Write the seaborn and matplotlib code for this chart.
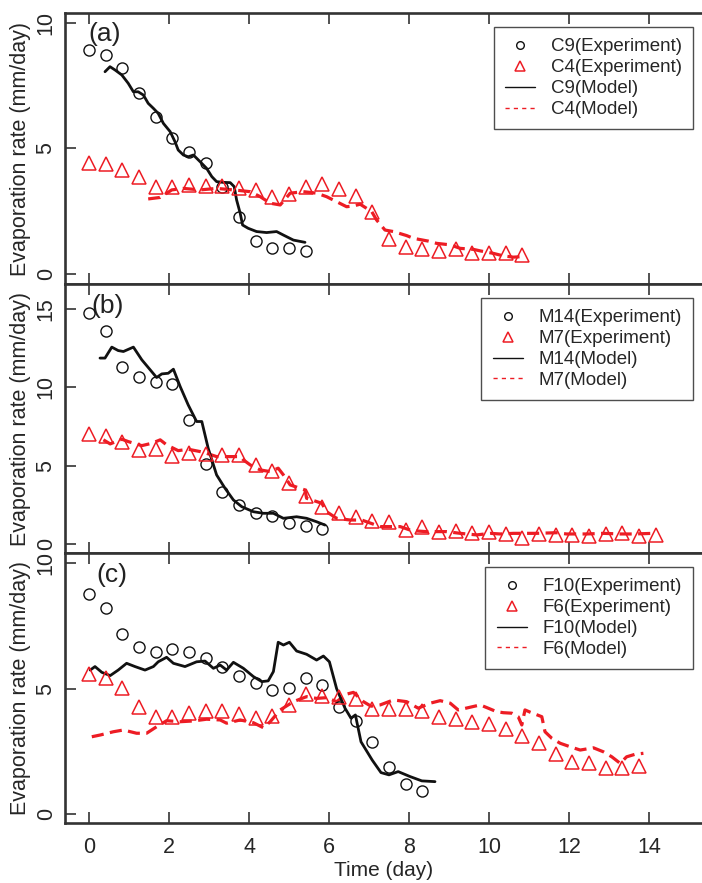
import numpy as np
import pandas as pd
import matplotlib
matplotlib.use("Agg")
import matplotlib.pyplot as plt
from matplotlib.lines import Line2D
import seaborn as sns

sns.set_theme(style="ticks")
plt.rcParams['font.family'] = ['Liberation Sans', 'DejaVu Sans']

# ---------------- data ----------------
t_exp = [0.0, 0.42, 0.83, 1.25, 1.67, 2.08, 2.5, 2.92, 3.33, 3.75, 4.17, 4.58,
         5.0, 5.42, 5.83, 6.25, 6.67, 7.08, 7.5, 7.92, 8.33, 8.75, 9.17, 9.58,
         10.0, 10.42, 10.83, 11.25, 11.67, 12.08, 12.5, 12.92, 13.33, 13.75, 14.17]

# panel (a)
c9_exp = [8.92, 8.72, 8.19, 7.2, 6.27, 5.43, 4.87, 4.43, 3.48, 2.28, 1.31, 1.05, 1.02, 0.93]
c4_exp = [4.43, 4.37, 4.14, 3.85, 3.48, 3.48, 3.55, 3.52, 3.52, 3.41, 3.35, 3.06, 3.18,
          3.48, 3.59, 3.39, 3.12, 2.46, 1.38, 1.06, 0.98, 0.93, 1.01, 0.82, 0.82, 0.85, 0.76]
c9_mod_t = [0.4, 0.525, 0.65, 0.82, 0.98, 1.11, 1.23, 1.36, 1.48, 1.61, 1.73, 1.86, 2.03,
            2.15, 2.23, 2.36, 2.48, 2.61, 2.78, 2.94, 3.07, 3.19, 3.36, 3.53, 3.63, 3.69,
            3.78, 3.84, 3.98, 4.19, 4.44, 4.69, 4.86, 5.11, 5.4]
c9_mod = [8.06, 8.26, 8.13, 7.93, 7.6, 7.26, 7.26, 7.13, 6.8, 6.6, 6.4, 6.0, 5.67,
          5.27, 4.94, 4.74, 4.67, 4.74, 4.47, 4.21, 3.88, 3.68, 3.65, 3.64, 3.48, 2.95,
          2.42, 1.95, 1.82, 1.69, 1.65, 1.69, 1.55, 1.35, 1.26]
c4_mod_t = [1.48, 1.78, 2.07, 2.36, 2.78, 3.19, 3.61, 4.03, 4.28, 4.53, 4.78, 5.03, 5.36,
            5.69, 5.94, 6.19, 6.44, 6.61, 6.78, 7.07, 7.19, 7.4, 7.61, 7.94, 8.11, 8.48,
            8.69, 9.03, 9.28, 9.61, 9.78, 10.11, 10.36, 10.61, 10.82]
c4_mod = [2.99, 3.05, 3.35, 3.41, 3.35, 3.41, 3.35, 3.28, 3.08, 2.82, 2.75, 3.22, 3.28,
          3.22, 3.08, 2.88, 2.68, 2.71, 2.78, 2.48, 2.15, 1.75, 1.69, 1.53, 1.42, 1.31,
          1.22, 1.16, 1.02, 0.98, 0.92, 0.82, 0.72, 0.67, 0.69]

# panel (b)
m14_exp = [14.74, 13.57, 11.29, 10.69, 10.37, 10.22, 7.92, 5.11, 3.34, 2.49, 2.0, 1.79,
           1.32, 1.17, 0.96]
m7_exp = [7.01, 6.9, 6.5, 6.01, 6.07, 5.62, 5.84, 5.73, 5.69, 5.69, 5.05, 4.66, 3.88,
          3.09, 2.38, 1.96, 1.74, 1.49, 1.39, 0.89, 1.07, 0.79, 0.85, 0.68, 0.79, 0.64,
          0.36, 0.64, 0.58, 0.58, 0.51, 0.62, 0.68, 0.51, 0.55]
m14_mod_t = [0.275, 0.4, 0.57, 0.73, 0.86, 1.11, 1.32, 1.53, 1.69, 1.82, 1.98, 2.11, 2.28,
             2.48, 2.69, 2.82, 2.98, 3.19, 3.4, 3.61, 3.82, 4.11, 4.36, 4.61, 4.86, 5.19,
             5.44, 5.69, 5.9]
m14_mod = [11.87, 11.87, 12.57, 12.35, 12.29, 12.57, 11.76, 11.12, 10.63, 10.86, 10.9,
           11.16, 10.05, 8.88, 7.82, 7.82, 6.11, 4.41, 3.56, 2.81, 2.38, 2.06, 1.96, 1.96,
           1.64, 1.74, 1.64, 1.42, 1.21]
m7_mod_t = [0.36, 0.53, 0.82, 0.98, 1.32, 1.57, 1.78, 1.94, 2.23, 2.48, 2.78, 2.94, 3.19,
            3.53, 3.78, 3.86, 4.03, 4.28, 4.53, 4.73, 4.86, 5.03, 5.4, 5.44, 5.82, 5.94,
            6.19, 6.53, 6.82, 7.28, 7.78, 8.07, 8.44, 8.94, 9.28, 9.69, 10.03, 10.28, 10.61,
            11.19, 11.69, 11.94, 12.44, 12.86, 13.28, 13.61, 14.11]
m7_mod = [6.65, 6.39, 6.69, 6.54, 6.28, 6.43, 6.65, 6.33, 5.96, 6.05, 5.9, 5.79, 5.58,
          5.58, 5.58, 5.37, 5.05, 4.73, 4.62, 4.84, 4.41, 3.77, 3.45, 2.92, 2.6, 2.06,
          1.64, 1.53, 1.53, 1.11, 1.11, 0.85, 0.79, 0.79, 0.68, 0.58, 0.68, 0.64, 0.68,
          0.68, 0.72, 0.64, 0.64, 0.68, 0.64, 0.64, 0.68]

# panel (c)
f10_exp = [8.78, 8.2, 7.18, 6.65, 6.47, 6.57, 6.47, 6.23, 5.88, 5.52, 5.24, 4.95, 5.01,
           5.44, 5.15, 4.28, 3.72, 2.86, 1.87, 1.18, 0.92]
f6_exp = [5.57, 5.44, 5.01, 4.28, 3.86, 3.88, 4.02, 4.11, 4.11, 3.98, 3.84, 3.91, 4.35,
          4.77, 4.72, 4.66, 4.6, 4.19, 4.19, 4.19, 4.12, 3.86, 3.78, 3.68, 3.58, 3.39,
          3.11, 2.82, 2.39, 2.09, 2.02, 1.85, 1.85, 1.93]
f10_mod_t = [0.03, 0.15, 0.32, 0.53, 0.73, 0.94, 1.15, 1.4, 1.61, 1.73, 1.94, 2.11, 2.4,
             2.69, 2.9, 3.11, 3.28, 3.44, 3.61, 3.86, 4.11, 4.32, 4.48, 4.61, 4.73, 4.86,
             5.01, 5.19, 5.44, 5.69, 5.86, 6.01, 6.19, 6.4, 6.55, 6.66, 6.8, 7.08, 7.3,
             7.5, 7.73, 8.03, 8.32, 8.65]
f10_mod = [5.74, 5.88, 5.65, 5.52, 5.74, 6.01, 5.88, 5.74, 5.88, 6.07, 6.25, 6.01, 5.88,
           6.07, 6.1, 5.81, 5.94, 5.74, 6.05, 5.81, 5.48, 5.28, 5.31, 5.68, 6.85, 6.74,
           6.85, 6.5, 6.37, 6.14, 6.3, 6.07, 5.0, 4.22, 3.82, 3.95, 2.88, 2.15, 1.65,
           1.56, 1.69, 1.49, 1.32, 1.29]
f6_mod_t = [0.07, 0.28, 0.61, 0.86, 1.19, 1.44, 1.69, 1.94, 2.28, 2.61, 2.94, 3.28, 3.44,
            3.78, 4.11, 4.36, 4.53, 4.78, 5.11, 5.44, 5.69, 5.94, 6.19, 6.44, 6.61, 6.86,
            7.05, 7.28, 7.61, 7.94, 8.23, 8.53, 8.78, 9.03, 9.23, 9.48, 9.78, 9.98, 10.19,
            10.36, 10.57, 10.73, 10.82, 10.9, 11.03, 11.32, 11.4, 11.57, 11.78, 12.03,
            12.28, 12.61, 12.86, 13.07, 13.28, 13.44, 13.65, 13.86]
f6_mod = [3.08, 3.15, 3.28, 3.35, 3.22, 3.22, 3.48, 3.72, 3.68, 3.71, 3.78, 3.75, 3.62,
          3.75, 3.64, 3.44, 3.68, 4.15, 4.48, 4.68, 4.61, 4.64, 4.48, 4.78, 4.85, 4.48,
          4.3, 4.35, 4.55, 4.48, 4.22, 4.42, 4.52, 4.42, 4.15, 4.24, 4.35, 4.22, 4.08,
          4.04, 4.02, 3.88, 3.55, 4.15, 4.06, 3.88, 3.28, 3.02, 2.82, 2.68, 2.55, 2.64,
          2.48, 2.28, 2.02, 2.28, 2.38, 2.42]

panels = [
    dict(tag="(a)", names=("C9", "C4"), exp1=c9_exp, exp2=c4_exp,
         m1t=c9_mod_t, m1=c9_mod, m2t=c4_mod_t, m2=c4_mod,
         ylim=(-0.4, 10.4), yticks=[0, 5, 10], tagpos=(0.037, 0.922)),
    dict(tag="(b)", names=("M14", "M7"), exp1=m14_exp, exp2=m7_exp,
         m1t=m14_mod_t, m1=m14_mod, m2t=m7_mod_t, m2=m7_mod,
         ylim=(-0.575, 16.6), yticks=[0, 5, 10, 15], tagpos=(0.042, 0.918)),
    dict(tag="(c)", names=("F10", "F6"), exp1=f10_exp, exp2=f6_exp,
         m1t=f10_mod_t, m1=f10_mod, m2t=f6_mod_t, m2=f6_mod,
         ylim=(-0.36, 10.41), yticks=[0, 5, 10], tagpos=(0.050, 0.919)),
]

RED = "#ED1C24"
BLK = "#111111"
SPINE = "#333333"

W, H = 702, 883
fig = plt.figure(figsize=(W / 100, H / 100), dpi=100)
boxes = [(13, 284), (284, 553), (553, 823)]
left_px, right_px = 65, 702

for k, (p, (top, bot)) in enumerate(zip(panels, boxes)):
    ax = fig.add_axes([left_px / W, 1 - bot / H, (right_px - left_px) / W, (bot - top) / H])
    n1, n2 = len(p["exp1"]), len(p["exp2"])
    d1 = pd.DataFrame({"t": t_exp[:n1], "v": p["exp1"]})
    d2 = pd.DataFrame({"t": t_exp[:n2], "v": p["exp2"]})
    dm1 = pd.DataFrame({"t": p["m1t"], "v": p["m1"]})
    dm2 = pd.DataFrame({"t": p["m2t"], "v": p["m2"]})

    sns.lineplot(data=dm2, x="t", y="v", ax=ax, color=RED, lw=2.3, estimator=None,
                 sort=False, linestyle=(0, (3.8, 2.0)), zorder=2)
    sns.lineplot(data=dm1, x="t", y="v", ax=ax, color=BLK, lw=2.0, estimator=None,
                 sort=False, zorder=3)
    sns.lineplot(data=d1, x="t", y="v", ax=ax, estimator=None, sort=False,
                 linestyle="none", marker="o", markersize=8.0, markerfacecolor="none",
                 markeredgecolor=BLK, markeredgewidth=1.0, color=BLK, zorder=4)
    sns.lineplot(data=d2, x="t", y="v", ax=ax, estimator=None, sort=False,
                 linestyle="none", marker="^", markersize=9.5, markerfacecolor="none",
                 markeredgecolor=RED, markeredgewidth=1.1, color=RED, zorder=4)

    ax.set_xlim(-0.6, 15.325)
    ax.set_ylim(*p["ylim"])
    ax.set_xticks([0, 2, 4, 6, 8, 10, 12, 14])
    ax.set_yticks(p["yticks"])
    ax.tick_params(axis="x", direction="in", length=8, width=1.2, color=SPINE,
                   top=True, bottom=True, labelsize=15.5, pad=10)
    ax.tick_params(axis="y", direction="in", length=8, width=1.2, color=SPINE,
                   left=True, right=False, labelsize=15.5, pad=6, labelrotation=90)
    for lab in ax.get_yticklabels():
        lab.set_va("center")
    if k < 2:
        ax.tick_params(axis="x", labelbottom=False)
        ax.set_xlabel("")
    else:
        ax.set_xlabel("Time (day)", fontsize=15)
        ax.xaxis.set_label_coords(0.5, -47 / 270, transform=ax.transAxes)
        ax.xaxis.label.set_va("center")
    ax.set_ylabel("Evaporation rate (mm/day)", fontsize=15.5, labelpad=3)
    for s in ["left", "top", "bottom"]:
        ax.spines[s].set_linewidth(1.9)
        ax.spines[s].set_color(SPINE)
    ax.spines["right"].set_visible(False)

    ax.text(p["tagpos"][0], p["tagpos"][1], p["tag"], transform=ax.transAxes,
            fontsize=19, ha="left", va="center", color="#222222")

    a, b = p["names"]
    handles = [
        Line2D([], [], ls="none", marker="o", ms=5.5, mfc="none", mec=BLK, mew=1.0),
        Line2D([], [], ls="none", marker="^", ms=7, mfc="none", mec=RED, mew=1.1),
        Line2D([], [], color=BLK, lw=1.0),
        Line2D([], [], color=RED, lw=1.0, ls=(0, (3, 3))),
    ]
    labels = [f"{a}(Experiment)", f"{b}(Experiment)", f"{a}(Model)", f"{b}(Model)"]
    leg = ax.legend(handles, labels, loc="upper right",
                    bbox_to_anchor=(0.986, 0.948), borderaxespad=0, fontsize=13.5,
                    frameon=True, fancybox=False, edgecolor="#222222",
                    handlelength=1.6, handletextpad=0.85, labelspacing=0.2,
                    borderpad=0.6)
    leg.get_frame().set_linewidth(1.0)

fig.savefig("out.png", dpi=100)
